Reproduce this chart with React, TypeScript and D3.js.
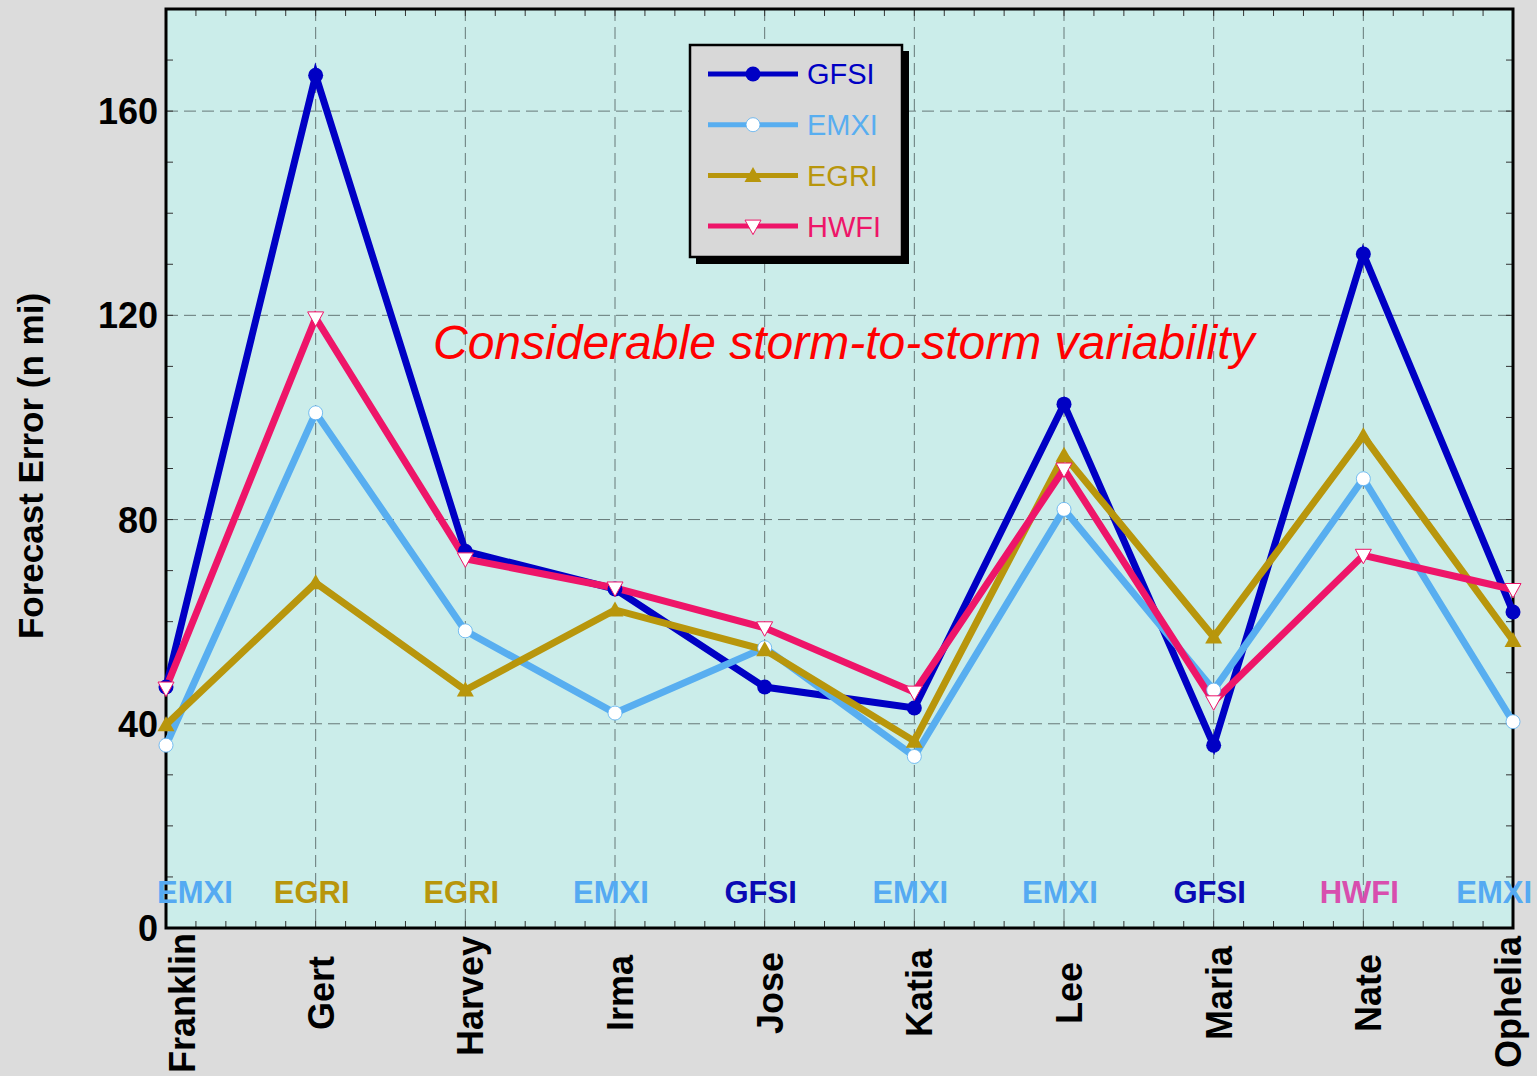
import React, { useEffect, useRef } from 'react'
import * as d3 from 'd3'

// storms (x categories) and forecast errors (n mi) per model
const storms = ['Franklin', 'Gert', 'Harvey', 'Irma', 'Jose', 'Katia', 'Lee', 'Maria', 'Nate', 'Ophelia']
const gfsi = [47.2, 167, 73.8, 66.4, 47.2, 43.1, 102.6, 35.8, 132, 61.9]
const emxi = [35.8, 100.9, 58.2, 42.1, 54.9, 33.6, 82, 46.6, 88, 40.4]
const egri = [39.8, 67.6, 46.6, 62.3, 54.5, 36.6, 92.6, 57, 96.4, 56.3]
const hwfi = [47, 119.5, 72.3, 66.6, 58.8, 46.2, 89.9, 44.3, 73, 66.3]
const yTicks = [0, 40, 80, 120, 160]
const annotation = 'Considerable storm-to-storm variability'

const W = 1537
const H = 1076
const FONT = 'Arial, "Liberation Sans", Helvetica, sans-serif'

type Marker = 'dot' | 'ring' | 'up' | 'down'
const series: { name: string; values: number[]; color: string; label: string; marker: Marker }[] = [
    { name: 'GFSI', values: gfsi, color: '#0000c4', label: '#0a0ab4', marker: 'dot' },
    { name: 'EMXI', values: emxi, color: '#58aef0', label: '#55aaf2', marker: 'ring' },
    { name: 'EGRI', values: egri, color: '#b8960c', label: '#b8960c', marker: 'up' },
    { name: 'HWFI', values: hwfi, color: '#ee1569', label: '#d84eae', marker: 'down' },
]

const drawMarker = (sel: any, kind: Marker, color: string) => {
    if (kind === 'dot') {
        sel.append('circle').attr('r', 7.5).attr('fill', color)
    } else if (kind === 'ring') {
        sel.append('circle').attr('r', 7).attr('fill', '#fff').attr('stroke', color).attr('stroke-width', 0.8)
    } else if (kind === 'up') {
        sel.append('path').attr('d', 'M0,-8.5 L8.5,6.5 L-8.5,6.5 Z').attr('fill', color)
    } else {
        sel.append('path').attr('d', 'M-8,-6 L8,-6 L0,8.5 Z').attr('fill', '#fff').attr('stroke', color).attr('stroke-width', 1)
    }
}

export default function App() {
    const svgRef = useRef<SVGSVGElement>(null)

    useEffect(() => {
        document.body.style.margin = '0'
        if (!svgRef.current) return
        const svg = d3.select(svgRef.current)
        svg.selectAll('*').remove()

        const left = 166, right = 1513, top = 9, bottom = 928
        const x = d3.scalePoint<string>().domain(storms).range([left, right])
        const y = d3.scaleLinear().domain([0, 180]).range([bottom, top])

        svg.append('rect').attr('width', W).attr('height', H).attr('fill', '#dcdcdc')
        svg.append('rect').attr('x', left).attr('y', top).attr('width', right - left).attr('height', bottom - top).attr('fill', '#cbedea')

        // grid
        const grid = svg.append('g').attr('stroke', '#4e5c5c').attr('stroke-width', 1).attr('stroke-dasharray', '12,6').attr('opacity', 0.8)
        yTicks.filter(t => t > 0).forEach(t => {
            grid.append('line').attr('x1', left).attr('x2', right).attr('y1', y(t)).attr('y2', y(t))
        })
        storms.slice(1, -1).forEach(s => {
            grid.append('line').attr('x1', x(s)!).attr('x2', x(s)!).attr('y1', top).attr('y2', bottom)
        })

        // minor ticks (inward, all sides)
        const ticks = svg.append('g').attr('stroke', '#333').attr('stroke-width', 1)
        d3.range(0, 181, 10).forEach(v => {
            ticks.append('line').attr('x1', left).attr('x2', left + 7).attr('y1', y(v)).attr('y2', y(v))
            ticks.append('line').attr('x1', right - 7).attr('x2', right).attr('y1', y(v)).attr('y2', y(v))
        })
        const step = (right - left) / ((storms.length - 1) * 5)
        d3.range(0, (storms.length - 1) * 5 + 1).forEach(i => {
            const xi = left + i * step
            ticks.append('line').attr('x1', xi).attr('x2', xi).attr('y1', bottom).attr('y2', bottom - 7)
            ticks.append('line').attr('x1', xi).attr('x2', xi).attr('y1', top).attr('y2', top + 7)
        })

        // frame
        svg.append('rect').attr('x', left).attr('y', top).attr('width', right - left).attr('height', bottom - top)
            .attr('fill', 'none').attr('stroke', '#000').attr('stroke-width', 3)

        // best model labels near bottom
        const bestG = svg.append('g').style('font-family', FONT).style('font-weight', 'bold').style('font-size', '31px')
        storms.forEach((s, i) => {
            const best = series[d3.minIndex(series, d => d.values[i])]
            const t = bestG.append('text').attr('y', 903).attr('text-anchor', 'middle').attr('fill', best.label).text(best.name)
            const w = (t.node() as SVGTextElement).getComputedTextLength()
            const cx = Math.min(Math.max(x(s)! - 4, 157 + w / 2), 1532 - w / 2)
            t.attr('x', cx)
        })

        // lines
        const line = d3.line<number>().x((d, i) => x(storms[i])!).y(d => y(d))
        series.forEach(se => {
            svg.append('path').datum(se.values).attr('d', line).attr('fill', 'none')
                .attr('stroke', se.color).attr('stroke-width', 7).attr('stroke-linejoin', 'miter')
        })
        series.forEach(se => {
            se.values.forEach((v, i) => {
                const m = svg.append('g').attr('transform', `translate(${x(storms[i])},${y(v)})`)
                drawMarker(m, se.marker, se.color)
            })
        })

        // y axis labels
        const yl = svg.append('g').style('font-family', FONT).style('font-weight', 'bold').style('font-size', '36px')
        yTicks.forEach(t => {
            yl.append('text').attr('x', 158).attr('y', y(t)).attr('dy', '0.36em').attr('text-anchor', 'end').text(t)
        })
        svg.append('text').attr('transform', 'translate(43,466) rotate(-90)').attr('text-anchor', 'middle')
            .style('font-family', FONT).style('font-weight', 'bold').style('font-size', '35px').text('Forecast Error (n mi)')

        // storm names
        const xl = svg.append('g').style('font-family', FONT).style('font-weight', 'bold').style('font-size', '36px')
        storms.forEach(s => {
            const bx = Math.min(Math.max(x(s)! + 18, 195), 1521)
            const t = xl.append('text').attr('text-anchor', 'middle').text(s)
            const len = (t.node() as SVGTextElement).getComputedTextLength()
            const cy = Math.max(993, Math.min(936 + len / 2, H - 3 - len / 2))
            t.attr('transform', `translate(${bx},${cy}) rotate(-90)`)
        })

        // annotation
        svg.append('text').attr('x', 433).attr('y', 359).attr('fill', '#ff0000')
            .style('font-family', FONT).style('font-style', 'italic').style('font-size', '48px').text(annotation)

        // legend
        const lg = svg.append('g')
        lg.append('rect').attr('x', 696).attr('y', 51).attr('width', 213).attr('height', 213).attr('fill', '#000')
        lg.append('rect').attr('x', 690).attr('y', 45).attr('width', 212).attr('height', 212).attr('fill', '#d8d8d8')
            .attr('stroke', '#000').attr('stroke-width', 2.5)
        series.forEach((se, i) => {
            const ly = 74 + i * 50.7
            lg.append('line').attr('x1', 708).attr('x2', 798).attr('y1', ly).attr('y2', ly).attr('stroke', se.color).attr('stroke-width', 5)
            drawMarker(lg.append('g').attr('transform', `translate(753,${ly})`), se.marker, se.color)
            lg.append('text').attr('x', 807).attr('y', ly).attr('dy', '0.36em').attr('fill', se.color)
                .style('font-family', FONT).style('font-size', '29px').text(se.name)
        })
    }, [])

    return <svg ref={svgRef} width={W} height={H} style={{ display: 'block' }} />
}
